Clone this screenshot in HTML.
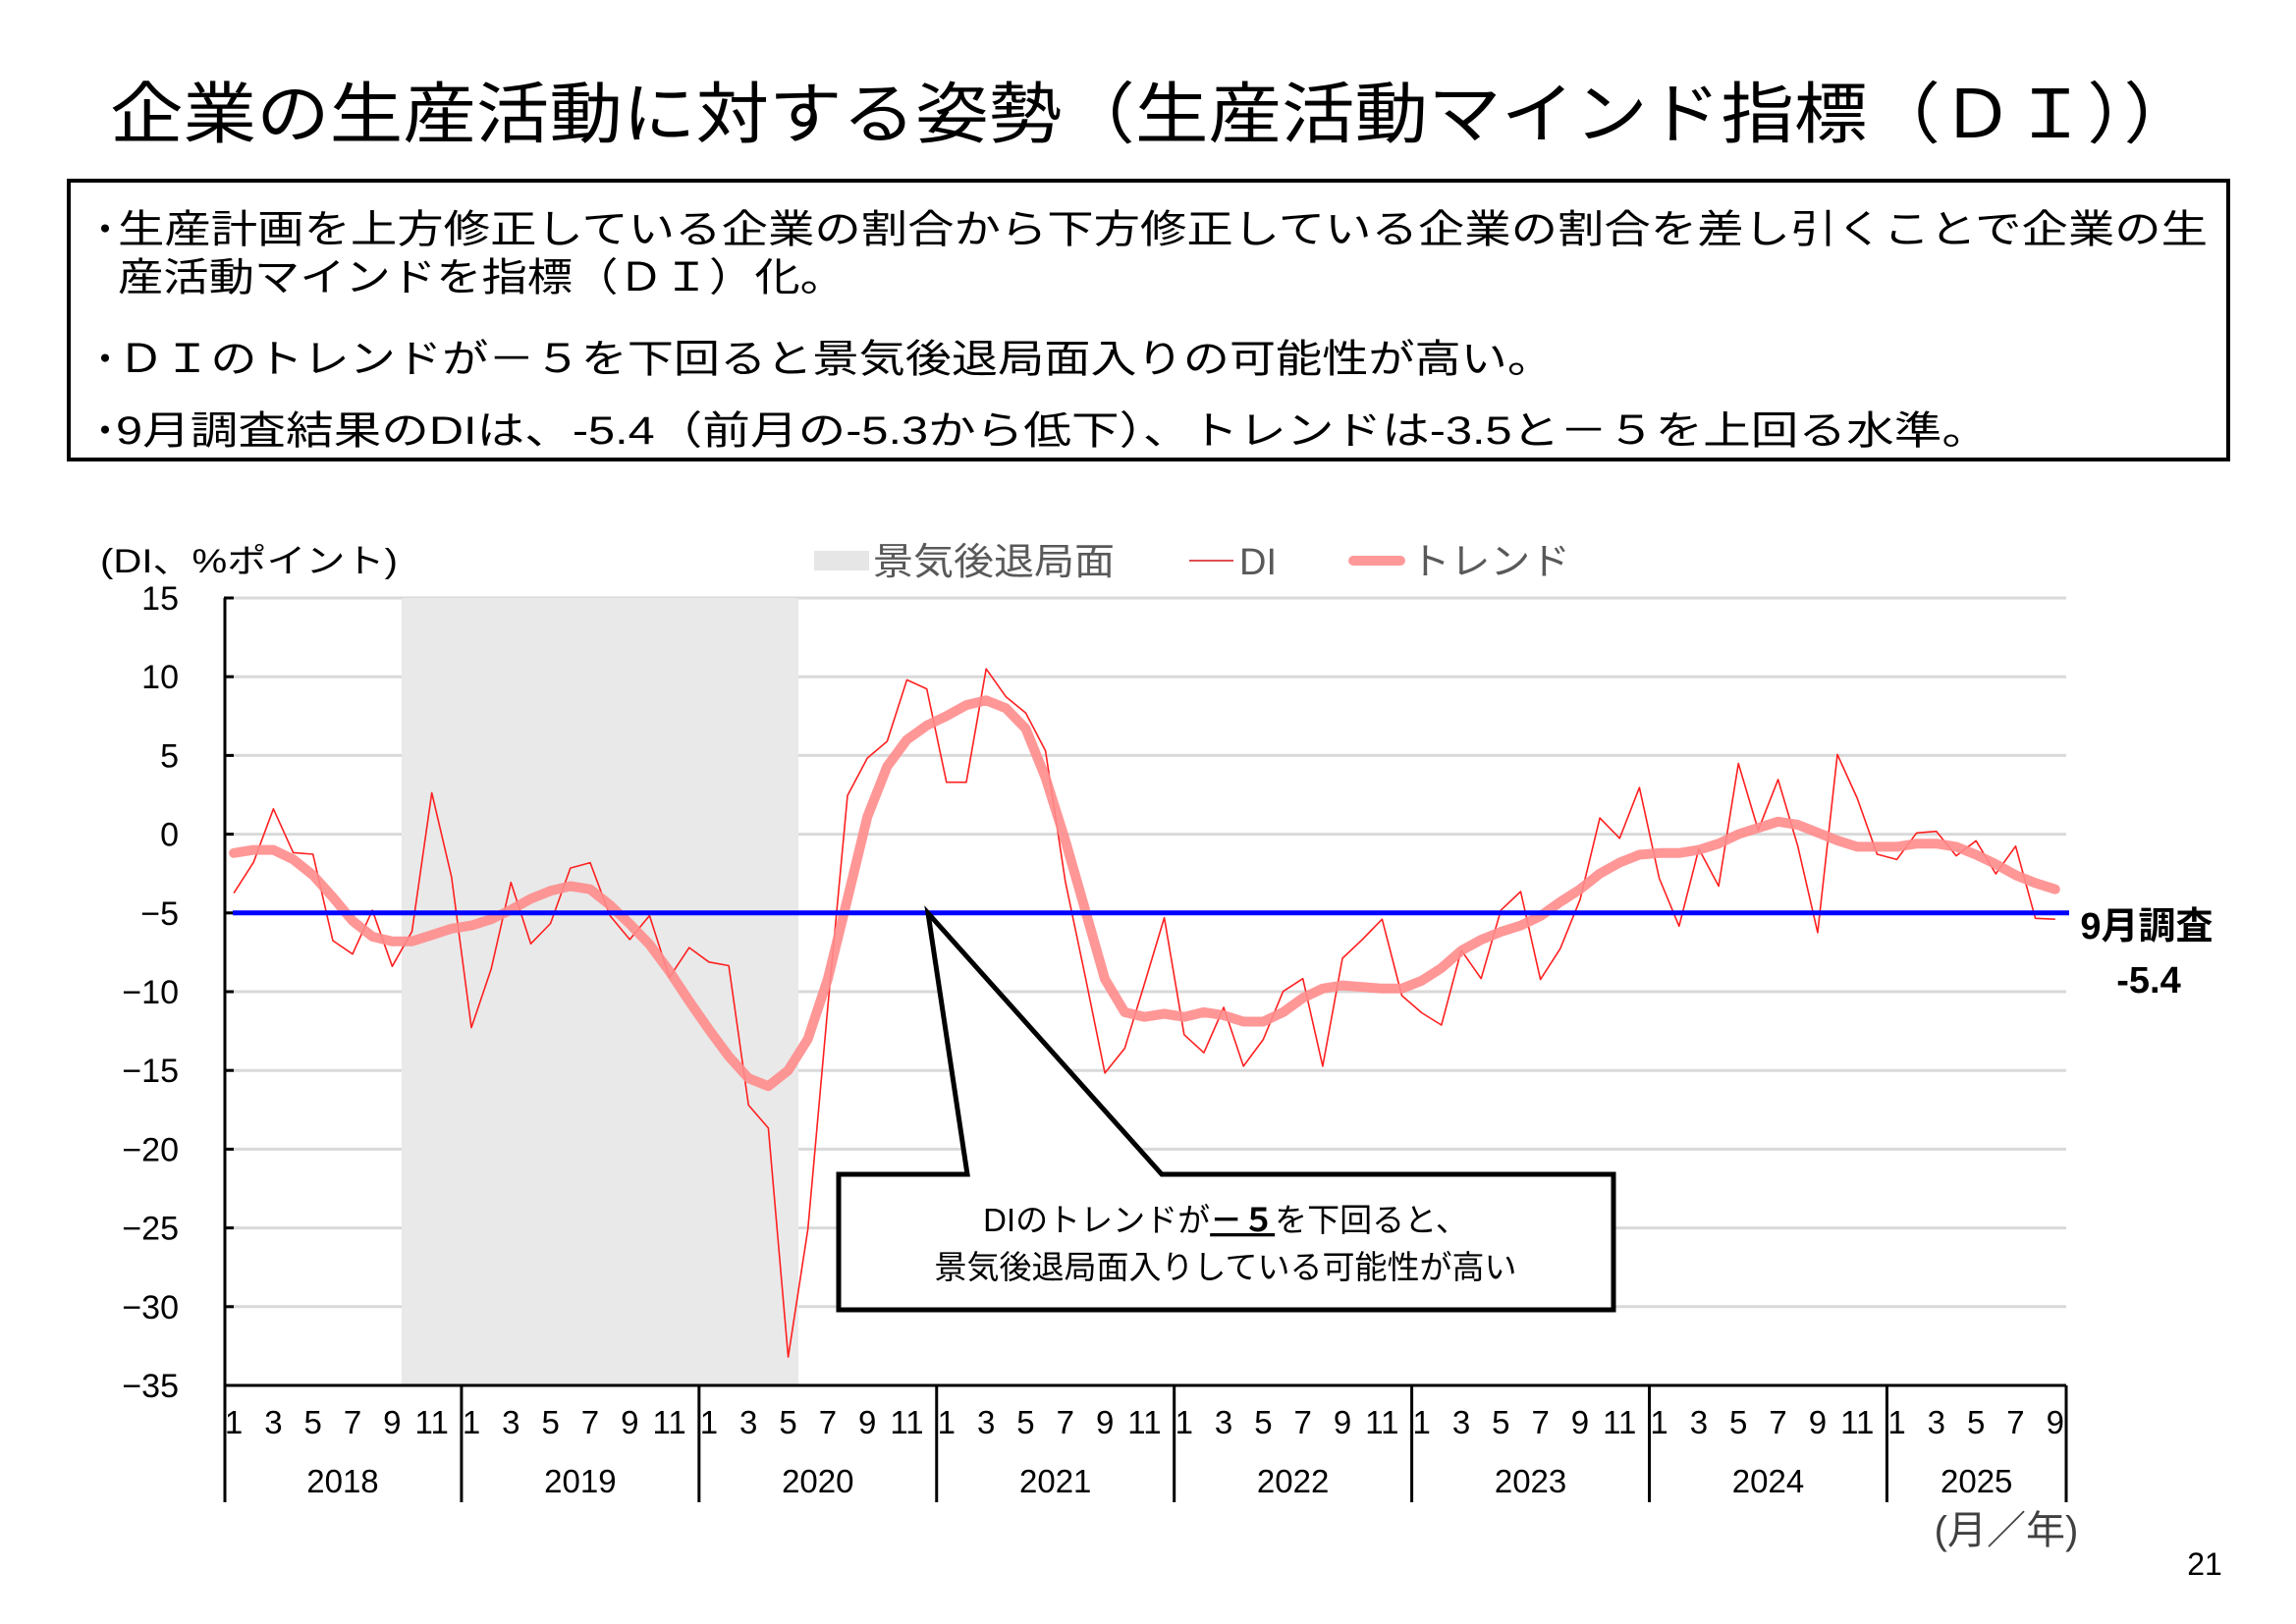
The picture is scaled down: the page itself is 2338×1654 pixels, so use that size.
<!DOCTYPE html>
<html><head><meta charset="utf-8">
<style>
html,body{margin:0;padding:0;background:#fff;}
svg{display:block;}
text{font-family:"Liberation Sans","Noto Sans CJK JP",sans-serif;}
</style></head>
<body>
<svg id="c" width="2338" height="1654" viewBox="0 0 2338 1654" xmlns="http://www.w3.org/2000/svg">
<rect width="2338" height="1654" fill="#fff"/>
<text x="112" y="140" font-size="68" textLength="2125" lengthAdjust="spacingAndGlyphs" fill="#000">企業の生産活動に対する姿勢（生産活動マインド指標（ＤＩ））</text>
<rect x="70" y="184" width="2199" height="284" fill="none" stroke="#000" stroke-width="4"/>
<text x="88" y="247" font-size="38" fill="#000">・</text>
<text x="120" y="247" font-size="40" textLength="2128" lengthAdjust="spacingAndGlyphs">生産計画を上方修正している企業の割合から下方修正している企業の割合を差し引くことで企業の生</text>
<text x="120" y="296" font-size="40" textLength="741" lengthAdjust="spacingAndGlyphs">産活動マインドを指標（ＤＩ）化。</text>
<text x="88" y="379" font-size="38">・</text>
<text x="120" y="379" font-size="40" textLength="1462" lengthAdjust="spacingAndGlyphs">ＤＩのトレンドが－５を下回ると景気後退局面入りの可能性が高い。</text>
<text x="88" y="452" font-size="38">・</text>
<text x="118" y="452" font-size="40" textLength="1908" lengthAdjust="spacingAndGlyphs">9月調査結果のDIは、-5.4（前月の-5.3から低下）、トレンドは-3.5と－５を上回る水準。</text>

<text x="102" y="583" font-size="34" textLength="303" lengthAdjust="spacingAndGlyphs">(DI、%ポイント)</text>
<rect x="829" y="561" width="56" height="20" fill="#e6e6e6"/>
<text x="889" y="585" font-size="38" fill="#595959" textLength="246" lengthAdjust="spacingAndGlyphs">景気後退局面</text>
<line x1="1211" y1="571" x2="1256" y2="571" stroke="#e05050" stroke-width="2"/>
<text x="1262" y="585" font-size="38" fill="#595959">DI</text>
<line x1="1378" y1="571" x2="1426" y2="571" stroke="#ff9999" stroke-width="10" stroke-linecap="round"/>
<text x="1436" y="585" font-size="38" fill="#595959" textLength="163" lengthAdjust="spacingAndGlyphs">トレンド</text>

<g id="grid"></g>
<rect x="409" y="609" width="404" height="802" fill="#e9e9e9"/>
<g id="axes"></g>
<polyline id="di" fill="none" stroke="#ff2020" stroke-width="1.6" stroke-linejoin="round"/>
<polyline id="tr" fill="none" stroke="#ff8c8c" stroke-opacity="0.9" stroke-width="10" stroke-linejoin="round" stroke-linecap="round"/>
<line x1="237" y1="929.8" x2="2107" y2="929.8" stroke="#0000ff" stroke-width="5"/>

<path d="M854,1196 L985,1196 L945,930 L1183,1196 L1643,1196 L1643,1334 L854,1334 Z" fill="#fff" stroke="#000" stroke-width="5" stroke-linejoin="miter"/>
<text x="1248" y="1254" font-size="33" text-anchor="middle">DIのトレンドが<tspan font-weight="bold" text-decoration="underline">－５</tspan>を下回ると、</text>
<text x="1248" y="1302" font-size="33" text-anchor="middle">景気後退局面入りしている可能性が高い</text>

<text x="2186" y="956" font-size="38" font-weight="bold" text-anchor="middle">9月調査</text>
<text x="2188" y="1011" font-size="38" font-weight="bold" text-anchor="middle">-5.4</text>

<text x="2043" y="1572" font-size="40" fill="#404040" text-anchor="middle">(月／年)</text>
<text x="2245" y="1604" font-size="32" text-anchor="middle">21</text>
</svg>
<script>
(function(){
var NS="http://www.w3.org/2000/svg";
function X(i){return 228+20.16*(i+0.5);}
function Y(v){return 609+(15-v)*16.04;}
function el(p,t,a,txt){var e=document.createElementNS(NS,t);for(var k in a)e.setAttribute(k,a[k]);if(txt!=null)e.textContent=txt;p.appendChild(e);return e;}
var g=document.getElementById('grid'),ax=document.getElementById('axes');
for(var v=15;v>=-30;v-=5){el(g,'line',{x1:228,y1:Y(v),x2:2104,y2:Y(v),stroke:'#d9d9d9','stroke-width':3});}
for(var v=15;v>=-35;v-=5){el(ax,'text',{x:182,y:Y(v)+12,'font-size':34,'text-anchor':'end'},String(v).replace('-','−'));
 el(ax,'line',{x1:228,y1:Y(v),x2:238,y2:Y(v),stroke:'#000','stroke-width':3});}
el(ax,'line',{x1:229,y1:609,x2:229,y2:1530,stroke:'#000','stroke-width':3});
el(ax,'line',{x1:228,y1:1411,x2:2104,y2:1411,stroke:'#000','stroke-width':3});
var years=['2018','2019','2020','2021','2022','2023','2024','2025'];
for(var y=0;y<8;y++){
 var x0=228+y*12*20.16;
 if(y>0) el(ax,'line',{x1:x0,y1:1411,x2:x0,y2:1530,stroke:'#000','stroke-width':3});
 var nm=(y==7)?9:12;
 for(var m=1;m<=nm;m+=2){el(ax,'text',{x:X(y*12+m-1),y:1460,'font-size':33,'text-anchor':'middle'},String(m));}
 var xe=(y==7)?2104:x0+12*20.16;
 el(ax,'text',{x:(x0+xe)/2,y:1520,'font-size':33,'text-anchor':'middle'},years[y]);
}
el(ax,'line',{x1:2104,y1:1411,x2:2104,y2:1530,stroke:'#000','stroke-width':3});
var di=[-3.74,-1.78,1.61,-1.17,-1.27,-6.76,-7.61,-4.83,-8.39,-6.18,2.63,-2.72,-12.28,-8.55,-3.06,-6.96,-5.67,-2.15,-1.81,-5.17,-6.69,-5.17,-9.1,-7.2,-8.12,-8.35,-17.2,-18.66,-33.2,-25.07,-11,2.45,4.83,5.9,9.8,9.23,3.3,3.3,10.5,8.73,7.7,5.3,-3,-9,-15.17,-13.6,-9.5,-5.3,
-12.73,-13.88,-11.0,-14.73,-13.03,-9.98,-9.17,-14.73,-7.88,-6.69,-5.4,-10.25,-11.34,-12.12,-7.37,-9.17,-4.83,-3.64,-9.23,-7.27,-4.15,1.03,-0.26,2.96,-2.8,-5.84,-0.93,-3.3,4.49,0.25,3.47,-0.76,-6.25,5.06,2.28,-1.27,-1.61,0.08,0.18,-1.37,-0.42,-2.52,-0.76,-5.34,-5.4];
var tr=[-1.2,-1.0,-1.0,-1.6,-2.6,-4.0,-5.5,-6.5,-6.8,-6.8,-6.4,-6.0,-5.8,-5.4,-4.8,-4.1,-3.6,-3.3,-3.5,-4.5,-5.7,-7.0,-8.7,-10.6,-12.4,-14.1,-15.5,-16.0,-15.0,-13.0,-9.2,-4.1,1.1,4.3,6.0,6.9,7.5,8.2,8.5,8.0,6.7,3.6,-0.4,-4.8,-9.2,-11.3,-11.6,-11.4,
-11.6,-11.3,-11.5,-11.9,-11.9,-11.3,-10.4,-9.8,-9.6,-9.7,-9.8,-9.8,-9.3,-8.5,-7.4,-6.7,-6.2,-5.8,-5.2,-4.3,-3.5,-2.5,-1.8,-1.3,-1.2,-1.2,-1.0,-0.6,0.0,0.4,0.8,0.6,0.1,-0.4,-0.8,-0.8,-0.8,-0.6,-0.6,-0.8,-1.3,-1.9,-2.6,-3.1,-3.5];
function pts(a){var s=[];for(var i=0;i<a.length;i++)s.push(X(i).toFixed(1)+','+Y(a[i]).toFixed(1));return s.join(' ');}
document.getElementById('di').setAttribute('points',pts(di));
document.getElementById('tr').setAttribute('points',pts(tr));
})();
</script>
</body></html>
